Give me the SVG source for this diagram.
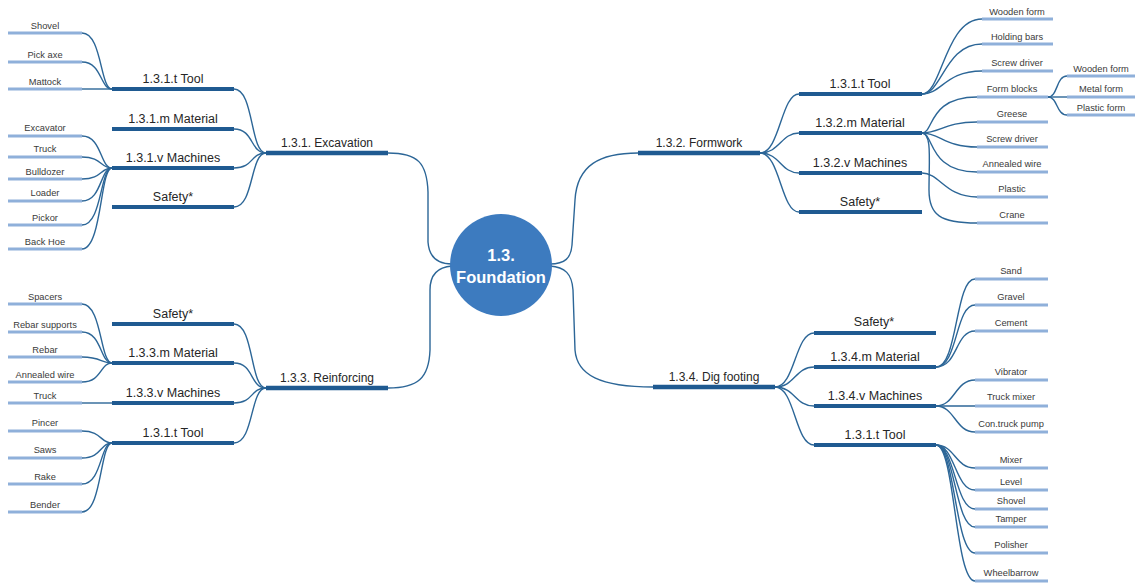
<svg xmlns="http://www.w3.org/2000/svg" width="1135" height="584" viewBox="0 0 1135 584">
<style>
.bg{fill:#ffffff}
.leaf{stroke:#8fb0da;stroke-width:3.2;fill:none}
.bar{stroke:#1f5a91;stroke-width:4;fill:none}
.br{stroke:#1f5a91;stroke-width:4.5;fill:none}
.c{stroke:#2c6697;stroke-width:1.4;fill:none}
text{font-family:"Liberation Sans",Arial,sans-serif;text-anchor:middle}
.t9{font-size:9.3px;fill:#3a3a3a}
.t12{font-size:12.5px;fill:#262626}
.tb{font-size:12px;fill:#262626}
.tc{font-size:16.5px;font-weight:bold;fill:#ffffff}
</style>
<rect class="bg" x="0" y="0" width="1135" height="584"/>

<g id="connectors">
<path class="c" d="M388,153 C418,153 427,163 428,192 L428,242 C429,256 437,264 452,264"/>
<path class="c" d="M388,388 C418,388 429,378 430,350 L430,290 C430,274 438,267 452,266"/>
<path class="c" d="M638,153 C600,153 577,165 575,200 L572,245 C571,258 565,264 550,264"/>
<path class="c" d="M550,266 C565,267 572,274 573,290 L575,350 C577,375 600,387 653,387"/>
<path class="c" d="M234,89 C254,89 250,153 266,153"/>
<path class="c" d="M234,129 C254,129 250,153 266,153"/>
<path class="c" d="M234,168 C254,168 250,153 266,153"/>
<path class="c" d="M234,207 C254,207 250,153 266,153"/>
<path class="c" d="M82,33 C102,33 100,89 112,89"/>
<path class="c" d="M82,62 C102,62 100,89 112,89"/>
<path class="c" d="M82,89 L112,89"/>
<path class="c" d="M82,136 C102,136 100,168 112,168"/>
<path class="c" d="M82,157 C102,157 100,168 112,168"/>
<path class="c" d="M82,179 C102,179 100,168 112,168"/>
<path class="c" d="M82,201 C102,201 100,168 112,168"/>
<path class="c" d="M82,225 C102,225 100,168 112,168"/>
<path class="c" d="M82,249 C102,249 100,168 112,168"/>
<path class="c" d="M234,324 C254,324 250,388 266,388"/>
<path class="c" d="M234,363 C254,363 250,388 266,388"/>
<path class="c" d="M234,403 C254,403 250,388 266,388"/>
<path class="c" d="M234,443 C254,443 250,388 266,388"/>
<path class="c" d="M82,304 C102,304 100,363 112,363"/>
<path class="c" d="M82,332 C102,332 100,363 112,363"/>
<path class="c" d="M82,357 C102,357 100,363 112,363"/>
<path class="c" d="M82,382 C102,382 100,363 112,363"/>
<path class="c" d="M82,403 L112,403"/>
<path class="c" d="M82,431 C102,431 100,443 112,443"/>
<path class="c" d="M82,458 C102,458 100,443 112,443"/>
<path class="c" d="M82,484 C102,484 100,443 112,443"/>
<path class="c" d="M82,512 C102,512 100,443 112,443"/>
<path class="c" d="M760,153 C780,153 781,94 799,94"/>
<path class="c" d="M760,153 C780,153 781,133 799,133"/>
<path class="c" d="M760,153 C780,153 781,173 799,173"/>
<path class="c" d="M760,153 C780,153 781,212 799,212"/>
<path class="c" d="M922,94 C942,94 945,19 982,19"/>
<path class="c" d="M922,94 C942,94 945,44 982,44"/>
<path class="c" d="M922,94 C942,94 945,71 982,71"/>
<path class="c" d="M922,133 C934,133 928,97 977,97"/>
<path class="c" d="M922,133 C940,133 945,122 977,122"/>
<path class="c" d="M922,133 C940,133 945,147 977,147"/>
<path class="c" d="M922,133 C934,133 928,172 977,172"/>
<path class="c" d="M922,133 C932,133 929,160 929,190 C929,215 940,223 977,223"/>
<path class="c" d="M922,173 C940,173 945,197 977,197"/>
<path class="c" d="M1048,97 C1058,97 1056,76 1067,76"/>
<path class="c" d="M1048,97 L1067,97"/>
<path class="c" d="M1048,97 C1058,97 1056,115 1067,115"/>
<path class="c" d="M775,387 C795,387 795,333 814,333"/>
<path class="c" d="M775,387 C795,387 795,367 814,367"/>
<path class="c" d="M775,387 C795,387 795,406 814,406"/>
<path class="c" d="M775,387 C795,387 795,445 814,445"/>
<path class="c" d="M936,367 C958,367 955,279 975,279"/>
<path class="c" d="M936,367 C958,367 955,305 975,305"/>
<path class="c" d="M936,367 C958,367 955,331 975,331"/>
<path class="c" d="M936,406 C955,406 955,380 975,380"/>
<path class="c" d="M936,406 L975,406"/>
<path class="c" d="M936,406 C955,406 955,432 975,432"/>
<path class="c" d="M936,445 C955,445 955,468 975,468"/>
<path class="c" d="M936,445 C955,445 955,490 975,490"/>
<path class="c" d="M936,445 C955,445 955,509 975,509"/>
<path class="c" d="M936,445 C955,445 955,527 975,527"/>
<path class="c" d="M936,445 C955,445 955,553 975,553"/>
<path class="c" d="M936,445 C955,445 955,581 975,581"/>
</g>

<g id="center">
<circle cx="501" cy="265" r="51" fill="#3d7bbf"/>
<text class="tc" x="501" y="261">1.3.</text>
<text class="tc" x="501" y="283">Foundation</text>
</g>

<g id="excavation"><line class="br" x1="266" y1="153" x2="388" y2="153"/><text class="tb" x="327" y="147">1.3.1. Excavation</text></g>
<g id="exc-tool"><line class="bar" x1="112" y1="89" x2="234" y2="89"/><text class="t12" x="173" y="83">1.3.1.t Tool</text></g>
<g id="exc-material"><line class="bar" x1="112" y1="129" x2="234" y2="129"/><text class="t12" x="173" y="123">1.3.1.m Material</text></g>
<g id="exc-machines"><line class="bar" x1="112" y1="168" x2="234" y2="168"/><text class="t12" x="173" y="162">1.3.1.v Machines</text></g>
<g id="exc-safety"><line class="bar" x1="112" y1="207" x2="234" y2="207"/><text class="t12" x="173" y="201">Safety*</text></g>
<g id="exc-shovel"><line class="leaf" x1="8" y1="33" x2="82" y2="33"/><text class="t9" x="45" y="29">Shovel</text></g>
<g id="exc-pickaxe"><line class="leaf" x1="8" y1="62" x2="82" y2="62"/><text class="t9" x="45" y="58">Pick axe</text></g>
<g id="exc-mattock"><line class="leaf" x1="8" y1="89" x2="82" y2="89"/><text class="t9" x="45" y="85">Mattock</text></g>
<g id="exc-excavator"><line class="leaf" x1="8" y1="136" x2="82" y2="136"/><text class="t9" x="45" y="131">Excavator</text></g>
<g id="exc-truck"><line class="leaf" x1="8" y1="157" x2="82" y2="157"/><text class="t9" x="45" y="152">Truck</text></g>
<g id="exc-bulldozer"><line class="leaf" x1="8" y1="179" x2="82" y2="179"/><text class="t9" x="45" y="175">Bulldozer</text></g>
<g id="exc-loader"><line class="leaf" x1="8" y1="201" x2="82" y2="201"/><text class="t9" x="45" y="196">Loader</text></g>
<g id="exc-pickor"><line class="leaf" x1="8" y1="225" x2="82" y2="225"/><text class="t9" x="45" y="221">Pickor</text></g>
<g id="exc-backhoe"><line class="leaf" x1="8" y1="249" x2="82" y2="249"/><text class="t9" x="45" y="245">Back Hoe</text></g>

<g id="reinforcing"><line class="br" x1="266" y1="388" x2="388" y2="388"/><text class="tb" x="327" y="382">1.3.3. Reinforcing</text></g>
<g id="rei-safety"><line class="bar" x1="112" y1="324" x2="234" y2="324"/><text class="t12" x="173" y="318">Safety*</text></g>
<g id="rei-material"><line class="bar" x1="112" y1="363" x2="234" y2="363"/><text class="t12" x="173" y="357">1.3.3.m Material</text></g>
<g id="rei-machines"><line class="bar" x1="112" y1="403" x2="234" y2="403"/><text class="t12" x="173" y="397">1.3.3.v Machines</text></g>
<g id="rei-tool"><line class="bar" x1="112" y1="443" x2="234" y2="443"/><text class="t12" x="173" y="437">1.3.1.t Tool</text></g>
<g id="rei-spacers"><line class="leaf" x1="8" y1="304" x2="82" y2="304"/><text class="t9" x="45" y="300">Spacers</text></g>
<g id="rei-rebarsupports"><line class="leaf" x1="8" y1="332" x2="82" y2="332"/><text class="t9" x="45" y="328">Rebar supports</text></g>
<g id="rei-rebar"><line class="leaf" x1="8" y1="357" x2="82" y2="357"/><text class="t9" x="45" y="353">Rebar</text></g>
<g id="rei-annealed"><line class="leaf" x1="8" y1="382" x2="82" y2="382"/><text class="t9" x="45" y="378">Annealed wire</text></g>
<g id="rei-truck"><line class="leaf" x1="8" y1="403" x2="82" y2="403"/><text class="t9" x="45" y="399">Truck</text></g>
<g id="rei-pincer"><line class="leaf" x1="8" y1="431" x2="82" y2="431"/><text class="t9" x="45" y="426">Pincer</text></g>
<g id="rei-saws"><line class="leaf" x1="8" y1="458" x2="82" y2="458"/><text class="t9" x="45" y="453">Saws</text></g>
<g id="rei-rake"><line class="leaf" x1="8" y1="484" x2="82" y2="484"/><text class="t9" x="45" y="480">Rake</text></g>
<g id="rei-bender"><line class="leaf" x1="8" y1="512" x2="82" y2="512"/><text class="t9" x="45" y="508">Bender</text></g>

<g id="formwork"><line class="br" x1="638" y1="153" x2="760" y2="153"/><text class="tb" x="699" y="147">1.3.2. Formwork</text></g>
<g id="frm-tool"><line class="bar" x1="799" y1="94" x2="922" y2="94"/><text class="t12" x="860" y="88">1.3.1.t Tool</text></g>
<g id="frm-material"><line class="bar" x1="799" y1="133" x2="922" y2="133"/><text class="t12" x="860" y="127">1.3.2.m Material</text></g>
<g id="frm-machines"><line class="bar" x1="799" y1="173" x2="922" y2="173"/><text class="t12" x="860" y="167">1.3.2.v Machines</text></g>
<g id="frm-safety"><line class="bar" x1="799" y1="212" x2="922" y2="212"/><text class="t12" x="860" y="206">Safety*</text></g>
<g id="frm-woodenform"><line class="leaf" x1="982" y1="19" x2="1053" y2="19"/><text class="t9" x="1017" y="15">Wooden form</text></g>
<g id="frm-holdingbars"><line class="leaf" x1="982" y1="44" x2="1053" y2="44"/><text class="t9" x="1017" y="40">Holding bars</text></g>
<g id="frm-screwdriver1"><line class="leaf" x1="982" y1="71" x2="1053" y2="71"/><text class="t9" x="1017" y="66">Screw driver</text></g>
<g id="frm-formblocks"><line class="leaf" x1="977" y1="97" x2="1048" y2="97"/><text class="t9" x="1012" y="92">Form blocks</text></g>
<g id="frm-greese"><line class="leaf" x1="977" y1="122" x2="1048" y2="122"/><text class="t9" x="1012" y="117">Greese</text></g>
<g id="frm-screwdriver2"><line class="leaf" x1="977" y1="147" x2="1048" y2="147"/><text class="t9" x="1012" y="142">Screw driver</text></g>
<g id="frm-annealed"><line class="leaf" x1="977" y1="172" x2="1048" y2="172"/><text class="t9" x="1012" y="167">Annealed wire</text></g>
<g id="frm-plastic"><line class="leaf" x1="977" y1="197" x2="1048" y2="197"/><text class="t9" x="1012" y="192">Plastic</text></g>
<g id="frm-crane"><line class="leaf" x1="977" y1="223" x2="1048" y2="223"/><text class="t9" x="1012" y="218">Crane</text></g>
<g id="frm-fb-wooden"><line class="leaf" x1="1067" y1="76" x2="1135" y2="76"/><text class="t9" x="1101" y="72">Wooden form</text></g>
<g id="frm-fb-metal"><line class="leaf" x1="1067" y1="97" x2="1135" y2="97"/><text class="t9" x="1101" y="92">Metal form</text></g>
<g id="frm-fb-plastic"><line class="leaf" x1="1067" y1="115" x2="1135" y2="115"/><text class="t9" x="1101" y="111">Plastic form</text></g>

<g id="digfooting"><line class="br" x1="653" y1="387" x2="775" y2="387"/><text class="tb" x="714" y="381">1.3.4. Dig footing</text></g>
<g id="dig-safety"><line class="bar" x1="814" y1="333" x2="936" y2="333"/><text class="t12" x="874" y="326">Safety*</text></g>
<g id="dig-material"><line class="bar" x1="814" y1="367" x2="936" y2="367"/><text class="t12" x="875" y="361">1.3.4.m Material</text></g>
<g id="dig-machines"><line class="bar" x1="814" y1="406" x2="936" y2="406"/><text class="t12" x="875" y="400">1.3.4.v Machines</text></g>
<g id="dig-tool"><line class="bar" x1="814" y1="445" x2="936" y2="445"/><text class="t12" x="875" y="439">1.3.1.t Tool</text></g>
<g id="dig-sand"><line class="leaf" x1="975" y1="279" x2="1048" y2="279"/><text class="t9" x="1011" y="274">Sand</text></g>
<g id="dig-gravel"><line class="leaf" x1="975" y1="305" x2="1048" y2="305"/><text class="t9" x="1011" y="300">Gravel</text></g>
<g id="dig-cement"><line class="leaf" x1="975" y1="331" x2="1048" y2="331"/><text class="t9" x="1011" y="326">Cement</text></g>
<g id="dig-vibrator"><line class="leaf" x1="975" y1="380" x2="1048" y2="380"/><text class="t9" x="1011" y="375">Vibrator</text></g>
<g id="dig-truckmixer"><line class="leaf" x1="975" y1="406" x2="1048" y2="406"/><text class="t9" x="1011" y="400">Truck mixer</text></g>
<g id="dig-pump"><line class="leaf" x1="975" y1="432" x2="1048" y2="432"/><text class="t9" x="1011" y="427">Con.truck pump</text></g>
<g id="dig-mixer"><line class="leaf" x1="975" y1="468" x2="1048" y2="468"/><text class="t9" x="1011" y="463">Mixer</text></g>
<g id="dig-level"><line class="leaf" x1="975" y1="490" x2="1048" y2="490"/><text class="t9" x="1011" y="485">Level</text></g>
<g id="dig-shovel"><line class="leaf" x1="975" y1="509" x2="1048" y2="509"/><text class="t9" x="1011" y="504">Shovel</text></g>
<g id="dig-tamper"><line class="leaf" x1="975" y1="527" x2="1048" y2="527"/><text class="t9" x="1011" y="522">Tamper</text></g>
<g id="dig-polisher"><line class="leaf" x1="975" y1="553" x2="1048" y2="553"/><text class="t9" x="1011" y="548">Polisher</text></g>
<g id="dig-wheelbarrow"><line class="leaf" x1="975" y1="581" x2="1048" y2="581"/><text class="t9" x="1011" y="576">Wheelbarrow</text></g>
</svg>
